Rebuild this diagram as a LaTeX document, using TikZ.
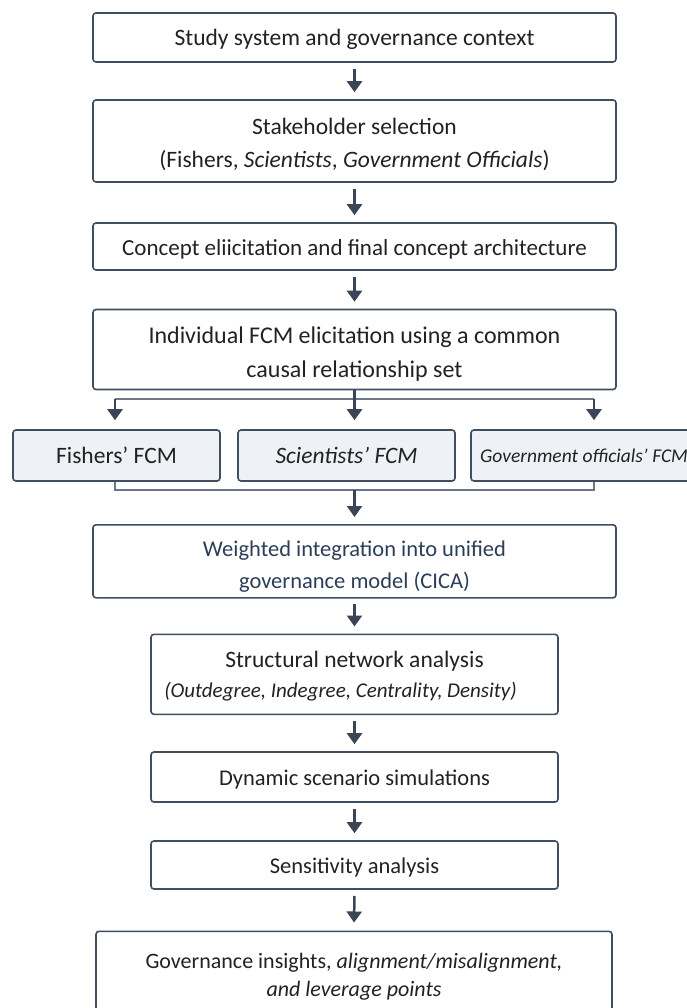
\documentclass[tikz,border=0pt]{standalone}
\usepackage{fontspec}
\setmainfont{Carlito}
\usetikzlibrary{arrows.meta}
\definecolor{frame}{HTML}{3F4E60}
\definecolor{arrowc}{HTML}{3A4656}
\definecolor{linkc}{HTML}{6A7888}
\definecolor{rowfill}{HTML}{EEF2F7}
\definecolor{textc}{HTML}{222222}
\definecolor{bluetext}{HTML}{2C3E58}
\newcommand{\fs}[2]{\fontsize{#1}{#2}\selectfont}
\newcommand{\dn}[2][3pt]{\raisebox{-#1}[\height][\depth]{#2}}
\begin{document}
\begin{tikzpicture}[x=1pt,y=-1pt,
  box/.style={draw=frame,line width=1.6pt,rounded corners=3pt,fill=white,
    inner sep=0pt,align=center,text=textc,font=\fs{23.5}{33}},
  rowbox/.style={box,fill=rowfill},
  flow/.style={draw=arrowc,line width=2.5pt,-{Triangle[width=15pt,length=11pt]}},
  link/.style={draw=linkc,line width=1.5pt},
]
\useasboundingbox (0,0) rectangle (686,1008);
\fill[white] (0,0) rectangle (686,1008);

\node[box,minimum width=523pt,minimum height=49pt] (b1) at (354.5,37.5)
  {\dn[1.5pt]{Study system and governance context}};
\node[box,minimum width=523pt,minimum height=82pt] (b2) at (354.5,141)
  {\dn{Stakeholder selection}\\\dn{(Fishers, \textit{Scientists}, \textit{Government Officials})}};
\node[box,minimum width=523pt,minimum height=47pt,font=\fs{23}{33}] (b3) at (354.5,246.5)
  {\dn{Concept eliicitation and final concept architecture}};
\node[box,minimum width=523pt,minimum height=80pt,font=\fs{24}{33.3}] (b4) at (354.5,349.5)
  {\dn[4.5pt]{Individual FCM elicitation using a common}\\\dn[4.5pt]{causal relationship set}};

\node[rowbox,minimum width=207pt,minimum height=51pt] (f) at (116.5,455.5)
  {Fishers’ FCM};
\node[rowbox,minimum width=217pt,minimum height=51pt] (s) at (346.5,455.5)
  {\textit{Scientists’ FCM}};
\node[rowbox,minimum width=226pt,minimum height=51pt,font=\fs{19.5}{22}] (g) at (584,455.5)
  {\textit{Government officials' FCM}};

\node[box,minimum width=523pt,minimum height=73pt,text=bluetext,font=\fs{22.5}{31.7}] (b5) at (354.5,561.3)
  {\dn[5pt]{Weighted integration into unified}\\\dn[5pt]{governance model (CICA)}};
\node[box,minimum width=407pt,minimum height=80pt,font=\fs{23.5}{30}] (b6) at (354.5,674.3)
  {\dn[2pt]{Structural network analysis}\\\dn[2pt]{\hspace*{-28pt}\fs{21}{30}\itshape (Outdegree, Indegree, Centrality, Density)}};
\node[box,minimum width=407pt,minimum height=50pt,font=\fs{22.5}{30}] (b7) at (354.5,777)
  {\dn[2pt]{Dynamic scenario simulations}};
\node[box,minimum width=407pt,minimum height=48pt,font=\fs{22.5}{30}] (b8) at (354.5,865)
  {\dn[2pt]{Sensitivity analysis}};
\node[box,minimum width=516pt,minimum height=100pt,anchor=north,font=\fs{22}{28}] (b9) at (354,930.5)
  {\dn[-5pt]{Governance insights, \textit{alignment/misalignment,}}\\\dn[-5pt]{\textit{and leverage points}}};

\coordinate (fs) at (115,399);
\coordinate (gs) at (594,399);
\coordinate (join) at (354.5,490);
\coordinate (fj) at (115,490);
\coordinate (gj) at (594,490);

\draw[flow] ([yshift=-6pt]b1.south) -- ([yshift=7pt]b2.north);
\draw[flow] ([yshift=-6pt]b2.south) -- ([yshift=7pt]b3.north);
\draw[flow] ([yshift=-6pt]b3.south) -- ([yshift=7pt]b4.north);

\draw[link] (fs) -- (gs);
\draw[flow] (b4.south) -- ([yshift=9pt]s.north -| b4.south);
\draw[flow] (fs) -- ([yshift=9pt]f.north -| fs);
\draw[flow] (gs) -- ([yshift=9pt]g.north -| gs);

\draw[link] (f.south -| fj) -- (fj) -- (gj) -- (g.south -| gj);
\draw[flow] (join) -- ([yshift=7pt]b5.north);

\draw[flow] ([yshift=-5pt]b5.south) -- ([yshift=7pt]b6.north);
\draw[flow] ([yshift=-6pt]b6.south) -- ([yshift=7pt]b7.north);
\draw[flow] ([yshift=-6pt]b7.south) -- ([yshift=7pt]b8.north);
\draw[flow] ([yshift=-6pt]b8.south) -- ([yshift=8pt]b9.north);
\end{tikzpicture}
\end{document}
